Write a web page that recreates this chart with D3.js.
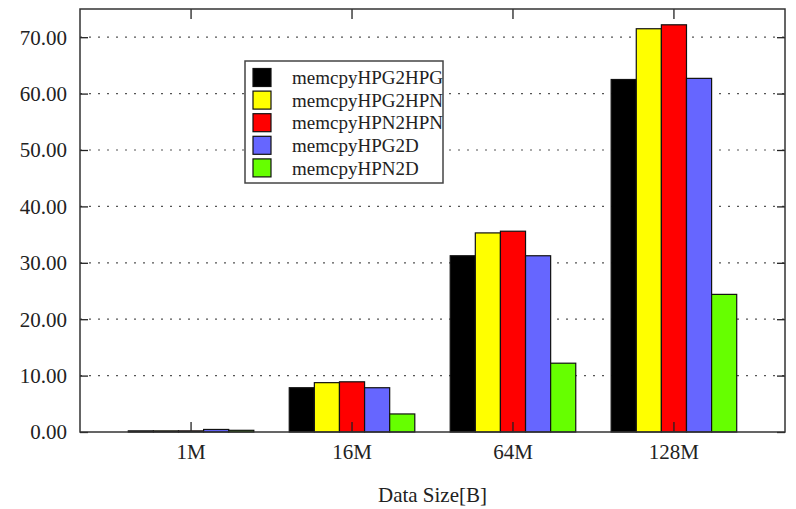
<!DOCTYPE html>
<html>
<head>
<meta charset="utf-8">
<script src="https://cdn.jsdelivr.net/npm/d3@7"></script>
<style>
  body { margin: 0; background: #fff; }
  text { font-family: "Liberation Serif", "Times New Roman", serif; fill: #222; }
</style>
</head>
<body>
<div id="chart"></div>
<script>
const categories = ["1M", "16M", "64M", "128M"];
const seriesNames = ["memcpyHPG2HPG", "memcpyHPG2HPN", "memcpyHPN2HPN", "memcpyHPG2D", "memcpyHPN2D"];
const seriesColors = ["#000000", "#ffff00", "#ff0000", "#6666ff", "#66ff00"];
// one array per series, values per category
const hpg2hpg = [0.2, 7.85, 31.25, 62.5];
const hpg2hpn = [0.2, 8.75, 35.3, 71.5];
const hpn2hpn = [0.2, 8.9, 35.6, 72.2];
const hpg2d = [0.45, 7.85, 31.25, 62.7];
const hpn2d = [0.3, 3.2, 12.2, 24.4];
const yTicks = [0, 10, 20, 30, 40, 50, 60, 70];

const seriesValues = [hpg2hpg, hpg2hpn, hpn2hpn, hpg2d, hpn2d];

const margin = { top: 9, right: 11, bottom: 77, left: 80 };
const width = 796 - margin.left - margin.right;
const height = 509 - margin.top - margin.bottom;

const svg = d3.select("#chart")
    .append("svg")
    .attr("width", 796)
    .attr("height", 509)
    .append("g")
    .attr("transform", `translate(${margin.left},${margin.top})`);

const x0 = d3.scaleBand()
    .domain(categories)
    .range([0, width])
    .paddingInner(0.22)
    .paddingOuter(0.3);

const x1 = d3.scaleBand()
    .domain(seriesNames)
    .range([0, x0.bandwidth()]);

const y = d3.scaleLinear()
    .domain([0, 75])
    .range([height, 0]);

// dotted grid lines
svg.append("g")
    .selectAll("line")
    .data(yTicks.filter(d => d > 0))
    .join("line")
    .attr("x1", 0)
    .attr("x2", width)
    .attr("y1", d => y(d))
    .attr("y2", d => y(d))
    .attr("stroke", "#555")
    .attr("stroke-width", 1.2)
    .attr("stroke-dasharray", "2,7");

// bars
categories.forEach((cat, ci) => {
    svg.append("g")
        .attr("transform", `translate(${x0(cat)},0)`)
        .selectAll("rect")
        .data(seriesNames.map((s, si) => ({ s, si, v: seriesValues[si][ci] })))
        .join("rect")
        .attr("x", d => x1(d.s))
        .attr("y", d => y(d.v))
        .attr("width", x1.bandwidth())
        .attr("height", d => height - y(d.v))
        .attr("fill", d => seriesColors[d.si])
        .attr("stroke", "#111")
        .attr("stroke-width", 1.2);
});

// y axis (left and right, inner ticks)
const yLeft = svg.append("g")
    .call(d3.axisRight(y).tickValues(yTicks).tickSize(8).tickFormat(""));
yLeft.select(".domain").remove();
yLeft.selectAll("line").attr("stroke", "#222").attr("stroke-width", 1.3);

const yRight = svg.append("g")
    .attr("transform", `translate(${width},0)`)
    .call(d3.axisLeft(y).tickValues(yTicks).tickSize(8).tickFormat(""));
yRight.select(".domain").remove();
yRight.selectAll("line").attr("stroke", "#222").attr("stroke-width", 1.3);

svg.append("g")
    .selectAll("text")
    .data(yTicks)
    .join("text")
    .attr("x", -13)
    .attr("y", d => y(d))
    .attr("dy", "0.35em")
    .attr("text-anchor", "end")
    .style("font-size", "21px")
    .text(d => d.toFixed(2));

// x axis ticks at group centers (bottom and top, inner)
const xb = svg.append("g")
    .attr("transform", `translate(0,${height})`)
    .call(d3.axisTop(x0).tickSize(10).tickFormat(""));
xb.select(".domain").remove();
xb.selectAll("line").attr("stroke", "#222").attr("stroke-width", 1.3);

const xt = svg.append("g")
    .call(d3.axisBottom(x0).tickSize(10).tickFormat(""));
xt.select(".domain").remove();
xt.selectAll("line").attr("stroke", "#222").attr("stroke-width", 1.3);

svg.append("g")
    .selectAll("text")
    .data(categories)
    .join("text")
    .attr("x", d => x0(d) + x0.bandwidth() / 2)
    .attr("y", height + 20)
    .attr("dy", "0.35em")
    .attr("text-anchor", "middle")
    .style("font-size", "21px")
    .text(d => d);

// frame
svg.append("rect")
    .attr("width", width)
    .attr("height", height)
    .attr("fill", "none")
    .attr("stroke", "#333")
    .attr("stroke-width", 1.5);

// x axis title
svg.append("text")
    .attr("x", width / 2)
    .attr("y", height + 63)
    .attr("dy", "0.35em")
    .attr("text-anchor", "middle")
    .style("font-size", "21px")
    .text("Data Size[B]");

// legend
const legend = svg.append("g")
    .attr("transform", `translate(${245 - margin.left},${61 - margin.top})`);

legend.append("rect")
    .attr("width", 198)
    .attr("height", 122)
    .attr("fill", "#fff")
    .attr("stroke", "#444")
    .attr("stroke-width", 1.5);

seriesNames.forEach((name, i) => {
    const row = legend.append("g")
        .attr("transform", `translate(0,${16.5 + i * 22.6})`);
    row.append("rect")
        .attr("x", 8)
        .attr("y", -9)
        .attr("width", 18)
        .attr("height", 18)
        .attr("fill", seriesColors[i])
        .attr("stroke", "#111")
        .attr("stroke-width", 1.2);
    row.append("text")
        .attr("x", 47)
        .attr("dy", "0.35em")
        .style("font-size", "19px")
        .text(name);
});
</script>
</body>
</html>
